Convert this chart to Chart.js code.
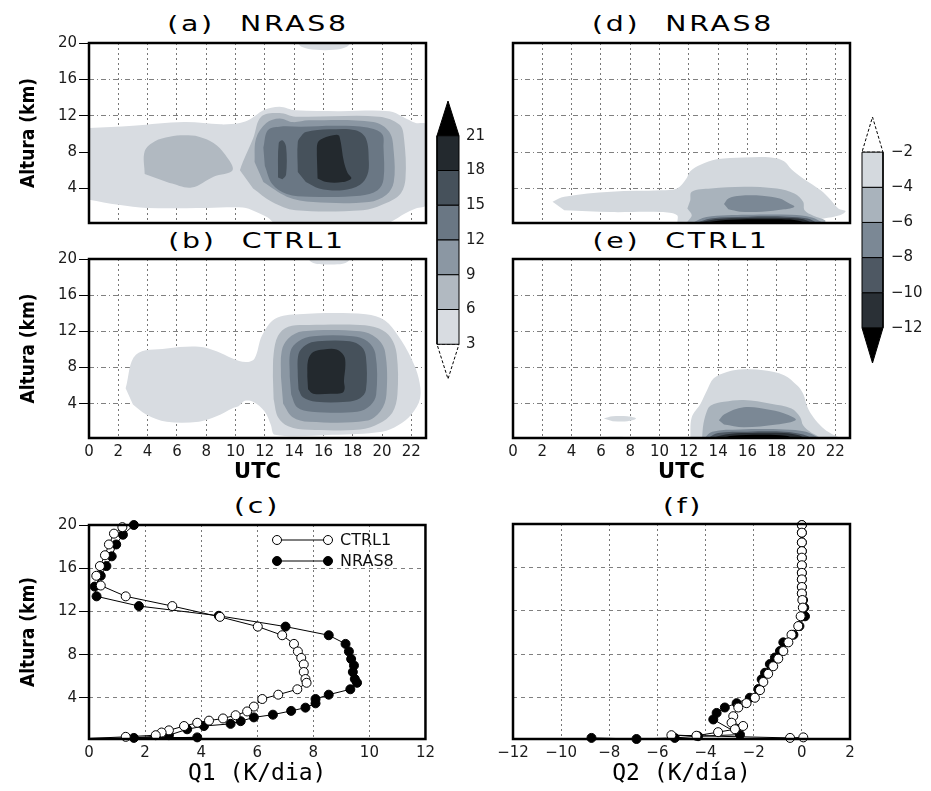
<!DOCTYPE html>
<html><head><meta charset="utf-8">
<script src="https://cdn.jsdelivr.net/npm/chart.js@4.4.1/dist/chart.umd.min.js"></script>
<style>
body{margin:0;background:#fff;width:931px;height:791px;position:relative;overflow:hidden}
canvas{position:absolute}
.ttl{position:absolute;font-family:'DejaVu Sans',sans-serif;font-size:21px;line-height:24px;letter-spacing:2px;word-spacing:10px;color:#000;white-space:nowrap;transform:translateX(-50%) scaleX(1.35);margin-left:1px}
</style></head><body>
<div class="ttl" style="left:257px;top:12px">(a) NRAS8</div>
<div class="ttl" style="left:256px;top:229px">(b) CTRL1</div>
<div class="ttl" style="left:256px;top:494px">(c)</div>
<div class="ttl" style="left:682px;top:12px">(d) NRAS8</div>
<div class="ttl" style="left:680px;top:229px">(e) CTRL1</div>
<div class="ttl" style="left:682px;top:494px">(f)</div>
<script>
// ---------- ticks and levels ----------
const utcTicks = [0,2,4,6,8,10,12,14,16,18,20,22];
const kmTicks = [4,8,12,16,20];
const q1Ticks = [0,2,4,6,8,10,12];
const q2Ticks = [-12,-10,-8,-6,-4,-2,0,2];
const q1Levels = [3,6,9,12,15,18,21];
const q2Levels = [-2,-4,-6,-8,-10,-12];
const q1Colors = ['#d8dce1','#b1b9c1','#8b97a3','#6a7784','#46515b','#23292e'];
const q2Colors = ['#d4d9de','#a9b3bc','#7b8895','#4e5863','#2a3036'];

// ---------- contour regions [UTC hour, km] : (a) Q1 NRAS8 ----------
const aQ1_3 = [[0,10.65],[3,10.9],[6.5,11.3],[9,11.05],[10.3,11.2],[11,11.6],[11.9,12.6],[13,13.0],[14.1,12.6],[17,12.5],[20.5,12.5],[21.4,11.9],[22.3,11.2],[23,11.0],[23,2.2],[22.3,1.8],[21.5,1.2],[20.8,0.5],[20.2,0.1],[12.8,0.1],[12.2,0.8],[11.3,1.5],[10.5,1.9],[8,1.85],[4,1.85],[2,2.2],[0,2.76]];
const aQ1_3top = [[14.1,20.3],[14.5,19.6],[15.5,19.25],[16.7,19.25],[17.6,19.6],[18,20.3]];
const aQ1_6left = [[3.8,5.6],[3.8,8.1],[4.5,9.2],[5.5,9.7],[6.5,9.85],[7.5,9.7],[8.5,9.0],[9.3,7.7],[9.8,6.0],[8.5,5.3],[7,4.1],[5.5,4.6]];
const aQ1_6 = [[10.3,6.0],[10.5,6.9],[11.2,9.5],[11.75,11.9],[13,12.3],[14.1,11.9],[19.8,11.9],[21.2,11.0],[21.5,9.5],[21.6,5.1],[21.2,3.3],[20,2.2],[18.7,1.6],[14.1,1.6],[12.5,2.5],[11.2,4.0]];
const aQ1_9 = [[11.3,6.9],[11.4,9.5],[12.1,11.2],[13,11.7],[13.9,11.3],[15,11.5],[19.4,11.3],[20.5,10.2],[20.8,8.0],[20.8,4.7],[20.3,3.3],[19.1,2.5],[15.3,2.5],[13.5,3.1],[11.9,4.7]];
const aQ1_12 = [[11.9,8.5],[12.2,10.4],[13,10.8],[14.5,10.8],[17,10.9],[19,10.7],[20,10],[20.1,8.5],[20.1,5.0],[19.7,3.8],[18.5,3.2],[15,3.1],[13.5,3.4],[12.5,4.5],[12.0,6.5]];
const aQ1_15strip = [[12.9,5.2],[12.95,9.0],[13.2,9.3],[13.45,8.6],[13.45,5.5],[13.2,5.0]];
const aQ1_15 = [[14.25,5.8],[14.25,9.1],[14.5,9.8],[14.8,10.2],[16.4,10.5],[18.2,10.4],[18.9,9.5],[19.1,6.9],[19.0,5.5],[18.5,4.4],[17.3,3.8],[15.7,4.0],[14.8,4.7]];
const aQ1_18 = [[15.55,7.7],[15.6,9.0],[15.95,9.5],[16.9,9.9],[17.1,9.7],[17.4,6.9],[17.65,5.7],[17.9,5.1],[17.3,4.7],[16.2,4.7],[15.6,5.1]];

// ---------- (b) Q1 CTRL1 ----------
const bQ1_3 = [[2.5,5.7],[3.2,9.4],[5.3,10.1],[7.5,10.3],[8.7,9.8],[9.8,9.0],[10.7,8.6],[11.3,9.0],[11.8,11.5],[12.7,13.4],[14.3,13.9],[18.9,13.9],[20.2,13.2],[21.1,11.5],[22.0,9.0],[22.5,6.8],[22.6,4.6],[22.0,2.8],[21.1,1.6],[20,0.9],[16.6,0.55],[12.7,0.55],[12.4,1.7],[12.0,3.1],[11.2,4.2],[10.6,4.3],[10.2,3.7],[9.8,3.5],[8.7,2.6],[7.5,2.0],[5.3,2.0],[3.9,2.8],[3.0,3.9]];
const bQ1_3top = [[14.8,20.3],[15.3,19.55],[16.4,19.4],[17.5,19.55],[18,20.3]];
const bQ1_6 = [[12.55,7],[12.6,9.5],[12.9,11.5],[13.6,12.5],[15,12.7],[18.5,12.7],[19.8,12.3],[20.6,11.3],[21,9.5],[21.05,5],[20.7,3.0],[19.8,1.8],[18.5,1.15],[15,1.1],[13.6,1.5],[12.9,2.5],[12.6,4.5]];
const bQ1_9 = [[13.1,7],[13.15,9.8],[13.6,11.2],[14.6,12.0],[18.5,12.0],[19.6,11.3],[20.2,9.8],[20.3,5],[19.9,3.2],[18.9,2.1],[15,2.0],[13.9,2.5],[13.25,4]];
const bQ1_12 = [[13.7,7],[13.75,9.8],[14.3,10.9],[15.3,11.45],[18,11.45],[19,10.9],[19.55,9.5],[19.6,5],[19.2,3.8],[18.3,3.1],[15.2,3.1],[14.2,3.6],[13.8,5]];
const bQ1_15 = [[14.25,7],[14.3,9.5],[14.8,10.5],[15.6,10.9],[17.8,10.9],[18.6,10.3],[18.9,9.2],[18.9,5.5],[18.5,4.6],[17.6,4.2],[15.5,4.2],[14.6,4.7],[14.3,5.6]];
const bQ1_18 = [[14.9,7],[14.95,8.8],[15.3,9.7],[16,10.0],[16.9,10.0],[17.4,9.3],[17.5,8.3],[17.4,6.5],[17.45,5.7],[17.3,5.2],[16.5,5.1],[15.3,5.1],[14.95,5.6]];

// ---------- (d) Q2 NRAS8 ----------
const dQ2_2 = [[2.7,2.55],[3.5,3.1],[6.7,3.65],[10.1,3.8],[11.2,4.0],[11.8,5.0],[12.1,5.9],[12.8,6.6],[13.9,7.2],[15.75,7.4],[17.6,7.4],[18.5,7.0],[19.0,6.1],[19.8,5.1],[21.0,3.8],[21.7,2.7],[22.2,1.8],[22.7,1.5],[22.3,1.05],[21.2,0.7],[20.3,0.5],[19.5,0.1],[11.3,0.1],[11.2,1.05],[10.1,1.4],[6.7,1.4],[3.5,1.6]];
const dQ2_4 = [[12.1,2.7],[12.2,3.65],[13.5,4.0],[15.75,4.2],[18,4.0],[19.2,3.45],[19.8,2.55],[19.9,1.6],[20.5,1.0],[21.3,0.5],[21.2,0.1],[11.9,0.1],[12.2,1.05],[11.9,1.8]];
const dQ2_6 = [[14.4,2.3],[14.7,2.9],[15.5,3.2],[17,3.2],[18.2,2.9],[18.8,2.4],[19.2,2.0],[18.5,1.7],[17,1.45],[15.5,1.45],[14.7,1.7]];
const dQ2_6low = [[12.1,0.1],[13.2,0.85],[16,1.1],[19,1.1],[20.4,0.8],[21.3,0.1]];
const dQ2_8 = [[12.3,0.1],[13.5,0.7],[16,0.9],[18.7,0.9],[20.1,0.7],[20.9,0.1]];
const dQ2_10 = [[12.5,0.1],[13.8,0.6],[16,0.75],[18.5,0.75],[19.8,0.6],[20.5,0.1]];
const dQ2_12 = [[12.8,0.1],[14,0.45],[16,0.6],[18.3,0.6],[19.5,0.45],[20.1,0.1]];

// ---------- (e) Q2 CTRL1 ----------
const eQ2_2 = [[12.1,0.1],[12.2,2.5],[12.8,4.0],[13.25,5.5],[13.7,6.8],[14.6,7.5],[15.75,7.8],[17.1,7.7],[18.5,7.15],[19.4,6.0],[19.8,5.1],[20.1,3.6],[20.5,2.5],[21.1,1.4],[21.7,0.7],[22.2,0.3],[22.3,0.1]];
const eQ2_2blob = [[6.2,2.35],[6.8,2.6],[7.8,2.6],[8.4,2.35],[7.8,2.05],[6.8,2.05]];
const eQ2_2low = [[4.8,0.1],[7,0.35],[9.3,0.1]];
const eQ2_4 = [[12.9,0.1],[13.0,1.8],[13.25,3.25],[13.5,3.8],[14.4,4.2],[15.75,4.4],[17.6,4.0],[19.0,3.45],[19.6,2.5],[19.8,1.6],[20.3,0.85],[20.8,0.4],[21,0.1]];
const eQ2_6 = [[14.05,2.15],[14.4,2.8],[15.75,3.6],[17.6,3.3],[18.7,2.8],[19.3,2.2],[18.0,1.7],[15.75,1.4],[14.4,1.7]];
const eQ2_6low = [[13.0,0.1],[13.6,0.9],[15.5,1.15],[18.5,1.15],[20,0.9],[21,0.1]];
const eQ2_8 = [[13.2,0.1],[14,0.75],[16,0.9],[18.5,0.9],[19.8,0.6],[20.5,0.1]];
const eQ2_10 = [[13.4,0.1],[14.5,0.6],[16,0.75],[18.5,0.75],[19.5,0.5],[20,0.1]];
const eQ2_12 = [[14,0.1],[15,0.45],[17,0.55],[18.6,0.45],[19.3,0.1]];

// ---------- vertical profiles ----------
const q1Ctrl1 = [1.19,0.89,0.71,0.57,0.39,0.26,0.42,1.31,2.97,4.67,6.02,6.89,7.31,7.45,7.57,7.66,7.66,7.72,7.76,7.43,6.75,6.18,5.88,5.64,5.23,4.78,4.28,3.86,3.39,2.85,2.59,2.38,1.31,0];
const zQ1Ctrl1 = [19.8,19.2,18.2,17.2,16.2,15.3,14.4,13.4,12.5,11.5,10.6,9.8,9.0,8.3,7.7,7.1,6.4,5.75,5.4,4.8,4.3,3.9,3.2,2.75,2.4,2.1,1.9,1.7,1.4,1.0,0.8,0.55,0.4,0.25];
const q1Nras8 = [1.6,1.21,0.97,0.81,0.62,0.42,0.2,0.27,1.78,4.63,7.01,8.55,9.15,9.27,9.35,9.45,9.41,9.48,9.56,9.32,8.55,8.08,8.08,7.72,7.21,6.56,5.88,5.41,5.05,4.1,3.5,2.85,1.6,3.86,0];
const zQ1Nras8 = [20.0,19.1,18.2,17.1,16.2,15.3,14.3,13.4,12.5,11.6,10.6,9.8,9.0,8.3,7.6,7.0,6.4,5.75,5.4,4.8,4.3,3.9,3.5,3.1,2.8,2.45,2.2,1.85,1.6,1.4,1.1,0.55,0.3,0.35,0.25];
const q2Ctrl1 = [0,0,0,0,0,0,0,0,0,0,0.02,0.04,-0.05,-0.15,-0.43,-0.56,-0.77,-0.98,-1.19,-1.4,-1.6,-1.74,-1.95,-2.3,-2.64,-2.85,-2.92,-2.44,-2.78,-3.48,-4.38,-5.42,-0.49,0.06];
const zQ2Ctrl1 = [19.9,19.2,18.3,17.5,16.9,16.2,15.5,14.9,14.2,13.6,13.0,12.3,11.5,10.6,9.8,9.1,8.3,7.6,6.9,6.2,5.45,4.7,4.0,3.5,3.1,2.3,1.7,1.4,1.1,0.83,0.5,0.55,0.3,0.35];
const q2Nras8 = [0,0,0,0,0,0,0,0,0,0,0.05,0.1,0.13,-0.1,-0.35,-0.77,-0.91,-1.12,-1.33,-1.53,-1.67,-1.81,-2.16,-2.71,-3.2,-3.54,-3.68,-2.57,-4.31,-5.28,-6.87,-8.74];
const zQ2Nras8 = [19.9,19.2,18.3,17.5,16.9,16.2,15.5,14.9,14.2,13.6,13.0,12.3,11.5,10.6,9.8,9.1,8.3,7.7,7.1,6.3,5.7,4.8,4.0,3.5,3.1,2.6,2.0,0.6,0.46,0.3,0.2,0.3];

// ---------- helpers ----------
Chart.defaults.font.family = "'DejaVu Sans', sans-serif";
Chart.defaults.color = '#1a1a1a';
const MARKER_R = 4.5;
const pts = arr => arr.map(p => ({x: p[0], y: p[1]}));
const zip = (xs, ys) => xs.map((v, i) => ({x: v, y: ys[i]}));
function shade(arr, color, order) {
  return {data: pts(arr), showLine: true, fill: 'shape', backgroundColor: color, borderWidth: 0,
          pointRadius: 0, tension: 0.35, order: order};
}
const minusFmt = v => (v < 0 ? '\u2212' + Math.abs(v) : String(v));

const framePlugin = {id: 'frame', afterDraw(chart) {
  const {ctx, chartArea: a} = chart;
  ctx.save(); ctx.strokeStyle = '#000'; ctx.lineWidth = 2.5;
  ctx.strokeRect(a.left, a.top, a.right - a.left, a.bottom - a.top); ctx.restore();
}};

const legendPlugin = {id: 'inlegend', afterDraw(chart) {
  const {ctx, chartArea: a} = chart;
  chart.data.datasets.forEach((ds, i) => {
    const y = a.top + 15 + i * 21, x1 = a.left + 188, x2 = a.left + 239;
    ctx.save();
    ctx.strokeStyle = '#000'; ctx.lineWidth = 1;
    ctx.beginPath(); ctx.moveTo(x1, y); ctx.lineTo(x2, y); ctx.stroke();
    [x1, x2].forEach(x => {
      ctx.beginPath(); ctx.arc(x, y, MARKER_R, 0, Math.PI * 2);
      ctx.fillStyle = ds.pointBackgroundColor; ctx.fill(); ctx.stroke();
    });
    ctx.fillStyle = '#111'; ctx.font = "16px 'DejaVu Sans'"; ctx.textBaseline = 'middle';
    ctx.fillText(ds.label, x2 + 12, y + 1);
    ctx.restore();
  });
}};

function makeCanvas(left, top, w, h) {
  const c = document.createElement('canvas');
  c.width = w; c.height = h;
  c.style.left = left + 'px'; c.style.top = top + 'px';
  c.style.width = w + 'px'; c.style.height = h + 'px';
  document.body.appendChild(c);
  return c;
}

function panel(p) {
  const canvas = makeCanvas(p.left, p.top, p.w, p.h);
  return new Chart(canvas, {
    type: 'scatter',
    data: {datasets: p.datasets},
    options: {
      responsive: false, animation: false, events: [],
      layout: {padding: {top: p.padTop, right: p.padRight, left: 0, bottom: 0}},
      plugins: {legend: {display: false}, tooltip: {enabled: false}},
      scales: {
        x: {type: 'linear', min: p.xMin, max: p.xMax, z: 1,
          afterBuildTicks: s => { s.ticks = p.xTicks.map(v => ({value: v})); },
          afterFit: s => { s.height = p.xH; },
          ticks: {display: p.showX, font: {size: 15}, padding: 5, maxRotation: 0, autoSkip: false, color: '#1a1a1a', callback: minusFmt},
          grid: {color: '#777', lineWidth: 1, drawTicks: false},
          border: {display: false, dash: [2, 3]},
          title: {display: !!p.xTitle, text: p.xTitle || '', font: p.xTitleFont || {}, color: '#000', padding: {top: 0, bottom: p.xTitlePad || 0}}
        },
        y: {type: 'linear', min: 0.2, max: 20, z: 1,
          afterBuildTicks: s => { s.ticks = kmTicks.map(v => ({value: v})); },
          afterFit: s => { s.width = p.yW; },
          ticks: {display: p.showY, font: {size: 15}, padding: 2, color: '#1a1a1a'},
          grid: {color: '#808080', lineWidth: 1, drawTicks: p.showY, tickLength: 10, tickColor: '#000', tickWidth: 1, tickBorderDash: []},
          border: {display: false, dash: p.yDash},
          title: {display: p.showY, text: 'Altura (km)', color: '#000',
                  font: {family: "'DejaVu Sans Condensed','Liberation Sans Narrow','DejaVu Sans'", weight: 'bold', size: 19},
                  padding: {top: 18, bottom: 0}}
        }
      }
    },
    plugins: [framePlugin].concat(p.plugins || [])
  });
}

const utcTitleFont = {family: "'DejaVu Sans'", weight: 'bold', size: 21};
const qTitleFont = {family: "'DejaVu Sans Mono','DejaVu Sans'", size: 23};

// ---------- contour panels ----------
const q1sets = (l3, l3top, l6s, l9, l12, l15s, l18) => {
  const ds = [];
  l3.forEach(a => ds.push(shade(a, q1Colors[0], 60)));
  l3top.forEach(a => ds.push(shade(a, q1Colors[0], 60)));
  l6s.forEach(a => ds.push(shade(a, q1Colors[1], 50)));
  l9.forEach(a => ds.push(shade(a, q1Colors[2], 40)));
  l12.forEach(a => ds.push(shade(a, q1Colors[3], 30)));
  l15s.forEach(a => ds.push(shade(a, q1Colors[4], 20)));
  l18.forEach(a => ds.push(shade(a, q1Colors[5], 10)));
  return ds;
};

panel({left: 0, top: 0, w: 440, h: 240, padTop: 43, padRight: 14, yW: 89, xH: 17,
  xMin: 0, xMax: 23, xTicks: utcTicks, showX: false, showY: true, yDash: [5, 3, 1, 3],
  datasets: q1sets([aQ1_3], [aQ1_3top], [aQ1_6left, aQ1_6], [aQ1_9], [aQ1_12], [aQ1_15strip, aQ1_15], [aQ1_18])});

panel({left: 0, top: 240, w: 440, h: 245, padTop: 19, padRight: 14, yW: 89, xH: 47,
  xMin: 0, xMax: 23, xTicks: utcTicks, showX: true, showY: true, yDash: [5, 3, 1, 3],
  xTitle: 'UTC', xTitleFont: utcTitleFont, xTitlePad: 0,
  datasets: q1sets([bQ1_3], [bQ1_3top], [bQ1_6], [bQ1_9], [bQ1_12], [bQ1_15], [bQ1_18])});

const q2sets = (l2, l4, l6, l8, l10, l12) => {
  const ds = [];
  l2.forEach(a => ds.push(shade(a, q2Colors[0], 60)));
  l4.forEach(a => ds.push(shade(a, q2Colors[1], 50)));
  l6.forEach(a => ds.push(shade(a, q2Colors[2], 40)));
  l8.forEach(a => ds.push(shade(a, q2Colors[3], 30)));
  l10.forEach(a => ds.push(shade(a, q2Colors[4], 20)));
  l12.forEach(a => ds.push(shade(a, '#000', 10)));
  return ds;
};

panel({left: 470, top: 0, w: 400, h: 240, padTop: 43, padRight: 20, yW: 43, xH: 17,
  xMin: 0, xMax: 23, xTicks: utcTicks, showX: false, showY: false, yDash: [5, 3, 1, 3],
  datasets: q2sets([dQ2_2], [dQ2_4], [dQ2_6, dQ2_6low], [dQ2_8], [dQ2_10], [dQ2_12])});

panel({left: 470, top: 240, w: 400, h: 245, padTop: 19, padRight: 20, yW: 43, xH: 47,
  xMin: 0, xMax: 23, xTicks: utcTicks, showX: true, showY: false, yDash: [5, 3, 1, 3],
  xTitle: 'UTC', xTitleFont: utcTitleFont, xTitlePad: 0,
  datasets: q2sets([eQ2_2, eQ2_2blob, eQ2_2low], [eQ2_4], [eQ2_6, eQ2_6low], [eQ2_8], [eQ2_10], [eQ2_12])});

// ---------- profile panels ----------
function profile(label, xs, zs, filled, order, hideLast) {
  const n = xs.length;
  return {label: label, data: zip(xs, zs), showLine: true, borderColor: '#000', borderWidth: 1,
          pointRadius: c => (hideLast && c.dataIndex === n - 1 ? 0 : MARKER_R),
          pointBorderWidth: 1, pointBorderColor: '#000',
          pointBackgroundColor: filled ? '#000' : '#fff', tension: 0, order: order, clip: 7};
}

panel({left: 0, top: 490, w: 440, h: 301, padTop: 35, padRight: 14, yW: 89, xH: 52,
  xMin: 0, xMax: 12, xTicks: q1Ticks, showX: true, showY: true, yDash: [4, 4],
  xTitle: 'Q1 (K/dia)', xTitleFont: qTitleFont, xTitlePad: 3,
  datasets: [profile('CTRL1', q1Ctrl1, zQ1Ctrl1, false, 1, true), profile('NRAS8', q1Nras8, zQ1Nras8, true, 2, true)],
  plugins: [legendPlugin]});

panel({left: 470, top: 490, w: 400, h: 301, padTop: 34, padRight: 20, yW: 43, xH: 52,
  xMin: -12, xMax: 2, xTicks: q2Ticks, showX: true, showY: false, yDash: [4, 4],
  xTitle: 'Q2 (K/día)', xTitleFont: qTitleFont, xTitlePad: 3,
  datasets: [profile('CTRL1', q2Ctrl1, zQ2Ctrl1, false, 1, false), profile('NRAS8', q2Nras8, zQ2Nras8, true, 2, false)]});

// ---------- colour bars ----------
function poly(arr, fillColor, dash) {
  return {data: pts(arr.concat([arr[0]])), showLine: true, fill: 'shape', backgroundColor: fillColor,
          borderColor: '#000', borderWidth: 1, borderDash: dash || [], pointRadius: 0, tension: 0, clip: false};
}
function colorbar(c) {
  const canvas = makeCanvas(c.left, c.top, c.w, c.h);
  const ds = [];
  for (let i = 0; i < c.levels.length - 1; i++) {
    const a = c.levels[i], b = c.levels[i + 1];
    ds.push(poly([[0, a], [1, a], [1, b], [0, b]], c.colors[i]));
  }
  ds.push(poly(c.hiTri, c.hiColor, c.hiDash));
  ds.push(poly(c.loTri, c.loColor, c.loDash));
  return new Chart(canvas, {
    type: 'scatter',
    data: {datasets: ds},
    options: {
      responsive: false, animation: false, events: [],
      layout: {padding: {top: c.padTop, bottom: c.padBottom, left: 12, right: 0}},
      plugins: {legend: {display: false}, tooltip: {enabled: false}},
      scales: {
        x: {type: 'linear', min: 0, max: 1, display: false},
        y: {type: 'linear', position: 'right', min: c.yMin, max: c.yMax,
          afterBuildTicks: s => { s.ticks = c.levels.map(v => ({value: v})); },
          afterFit: s => { s.width = c.axisW; },
          ticks: {font: {size: 15}, padding: c.labelPad, color: '#1a1a1a', callback: minusFmt},
          grid: {display: false, drawTicks: false},
          border: {display: false}}
      }
    }
  });
}

colorbar({left: 425, top: 85, w: 70, h: 310, padTop: 9, padBottom: 13.4, axisW: 36, labelPad: 7,
  levels: q1Levels, colors: q1Colors, yMin: 0, yMax: 24,
  hiTri: [[0, 21], [1, 21], [0.5, 24]], hiColor: '#000',
  loTri: [[0, 3], [1, 3], [0.5, 0]], loColor: '#fff', loDash: [3, 2]});

colorbar({left: 850, top: 100, w: 81, h: 280, padTop: 12.3, padBottom: 15.7, axisW: 48, labelPad: 8,
  levels: q2Levels, colors: q2Colors, yMin: -14, yMax: 0,
  hiTri: [[0, -2], [1, -2], [0.5, 0]], hiColor: '#fff', hiDash: [3, 2],
  loTri: [[0, -12], [1, -12], [0.5, -14]], loColor: '#000'});
</script>
</body></html>
